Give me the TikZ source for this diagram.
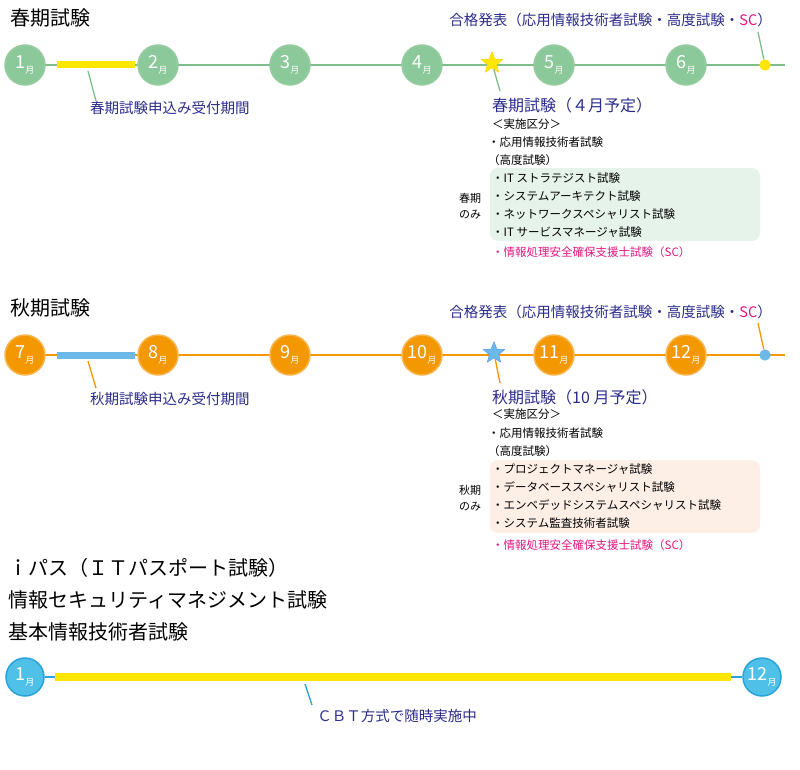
\documentclass[tikz,border=0pt]{standalone}
\usepackage{fontspec}
\setmainfont{Noto Sans CJK JP}
\usetikzlibrary{shapes.geometric}
\definecolor{sg}{HTML}{8CC99A}
\definecolor{sgl}{HTML}{7DBF8A}
\definecolor{ao}{HTML}{F39800}
\definecolor{aol}{HTML}{F8B550}
\definecolor{cb}{HTML}{4FC1E9}
\definecolor{cbl}{HTML}{2AA3D8}
\definecolor{nv}{HTML}{2B2B8C}
\definecolor{mg}{HTML}{E4157F}
\definecolor{yl}{HTML}{FFE600}
\definecolor{hb}{HTML}{6CB8E6}
\definecolor{gbox}{HTML}{E5F3EA}
\definecolor{obox}{HTML}{FDEEE6}
\tikzset{
 mon/.style={circle,minimum size=40pt,inner sep=0pt,text=white,line width=1.5pt},
 ttl/.style={anchor=west,inner sep=0pt,font=\fontsize{20}{22}\selectfont},
 nav/.style={anchor=west,inner sep=0pt,text=nv,font=\fontsize{14.5}{16}\selectfont},
 sm/.style={anchor=west,inner sep=0pt,font=\fontsize{11.5}{13}\selectfont},
}
\newcommand{\mth}[1]{{\fontsize{18}{18}\selectfont #1}\raisebox{-5pt}{\fontsize{9}{9}\selectfont 月}}
\begin{document}
\begin{tikzpicture}[x=1pt,y=-1pt]
\useasboundingbox (0,0) rectangle (800,770);
% ===== Spring
\node[ttl] (t1) at (10,18) {春期試験};
\coordinate (l1a) at (5,65); \coordinate (l1b) at (785,65);
\draw[sgl,line width=1.3pt] (l1a) -- (l1b);
\draw[yl,line width=7pt] (57,65) -- (135,65);
\foreach \m/\x in {1/25,2/158,3/290,4/422,5/554,6/686}{
 \node[mon,fill=sg,draw=sgl!80] (s\m) at (\x,65) {\mth{\m}};}
\node[star,star points=5,star point ratio=2.3,fill=yl,draw=yl!80!orange,inner sep=3.5pt] (st1) at (492,63) {};
\node[circle,fill=yl,inner sep=4pt] (d1) at (765,65) {};
\node[nav] (ap1) at (90,108) {春期試験申込み受付期間};
\coordinate (c1) at (88,71);
\draw[sgl,line width=1.3pt] (c1) -- (ap1.north west -| 96,0) ;
\node[nav,anchor=east] (r1) at (772,20) {合格発表（応用情報技術者試験・高度試験・\textcolor{mg}{SC}）};
\draw[sgl,line width=1.3pt] (758,32) -- (d1);
\node[nav,font=\fontsize{16}{18}\selectfont] (e1) at (492,105) {春期試験（４月予定）};
\draw[sgl,line width=1.3pt] (st1) -- (500,91);
\fill[gbox,rounded corners=8pt] (490,168) rectangle (760,241);
\node[sm] (a1) at (492,124) {＜実施区分＞};
\node[sm] (a2) at (488,142) {・応用情報技術者試験};
\node[sm] (a3) at (488,160) {（高度試験）};
\node[sm] (a4) at (492,178) {・IT ストラテジスト試験};
\node[sm] (a5) at (492,196) {・システムアーキテクト試験};
\node[sm] (a6) at (492,214) {・ネットワークスペシャリスト試験};
\node[sm] (a7) at (492,232) {・IT サービスマネージャ試験};
\node[sm,text=mg] (a8) at (492,252) {・情報処理安全確保支援士試験（SC）};
\node[sm,align=center,anchor=center,font=\fontsize{11}{16}\selectfont] (o1) at (470,206) {春期\\のみ};
% ===== Autumn
\node[ttl] (t2) at (10,308) {秋期試験};
\draw[ao,line width=1.3pt] (5,355) -- (785,355);
\draw[hb,line width=7pt] (57,355) -- (135,355);
\foreach \m/\x in {7/25,8/158,9/290,10/422,11/554,12/686}{
 \node[mon,fill=ao,draw=aol] (f\m) at (\x,355) {\mth{\m}};}
\node[star,star points=5,star point ratio=2.3,fill=hb,draw=hb!80!blue,inner sep=3.5pt] (st2) at (494,353) {};
\node[circle,fill=hb,inner sep=4pt] (d2) at (765,355) {};
\node[nav] (ap2) at (90,399) {秋期試験申込み受付期間};
\draw[ao,line width=1.3pt] (88,361) -- (96,388);
\node[nav,anchor=east] (r2) at (772,312) {合格発表（応用情報技術者試験・高度試験・\textcolor{mg}{SC}）};
\draw[ao,line width=1.3pt] (758,323) -- (d2);
\node[nav,font=\fontsize{16}{18}\selectfont] (e2) at (492,397) {秋期試験（10 月予定）};
\draw[ao,line width=1.3pt] (st2) -- (500,383);
\fill[obox,rounded corners=8pt] (490,460) rectangle (760,533);
\node[sm] (b1) at (492,414) {＜実施区分＞};
\node[sm] (b2) at (488,433) {・応用情報技術者試験};
\node[sm] (b3) at (488,451) {（高度試験）};
\node[sm] (b4) at (492,469) {・プロジェクトマネージャ試験};
\node[sm] (b5) at (492,487) {・データベーススペシャリスト試験};
\node[sm] (b6) at (492,505) {・エンベデッドシステムスペシャリスト試験};
\node[sm] (b7) at (492,523) {・システム監査技術者試験};
\node[sm,text=mg] (b8) at (492,545) {・情報処理安全確保支援士試験（SC）};
\node[sm,align=center,anchor=center,font=\fontsize{11}{16}\selectfont] (o2) at (470,498) {秋期\\のみ};
% ===== CBT
\node[ttl] (g1) at (8,568) {ｉパス（ＩＴパスポート試験）};
\node[ttl] (g2) at (8,600) {情報セキュリティマネジメント試験};
\node[ttl] (g3) at (8,632) {基本情報技術者試験};
\node[mon,fill=cb,draw=cbl,minimum size=38pt] (c1m) at (25,677) {\mth{1}};
\node[mon,fill=cb,draw=cbl,minimum size=38pt] (c12m) at (762,677) {\mth{12}};
\draw[cbl,line width=1.3pt] (c1m) -- (c12m);
\draw[yl,line width=8pt] (55,677) -- (731,677);
\node[nav,anchor=center] (cb1) at (397,716) {ＣＢＴ方式で随時実施中};
\draw[cbl,line width=1.3pt] (305,684) -- (312,705);
\end{tikzpicture}
\end{document}
